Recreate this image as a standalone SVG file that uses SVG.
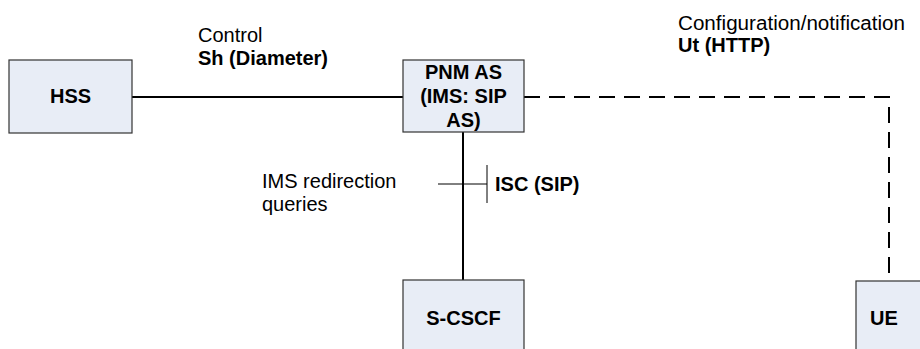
<svg xmlns="http://www.w3.org/2000/svg" width="920" height="349" viewBox="0 0 920 349">
  <style>
    .box { fill: #e8edf6; stroke: #333333; stroke-width: 1.2; }
    .lbl { font-family: "Liberation Sans", Arial, sans-serif; font-size: 20px; fill: #000000; }
    .b { font-weight: bold; }
    .mid { text-anchor: middle; }
    .conn { stroke: #000000; stroke-width: 2; fill: none; }
    .dash { stroke-dasharray: 16 9; }
    .tick { stroke: #000000; stroke-width: 1; fill: none; }
  </style>
  <rect width="920" height="349" fill="#ffffff"/>
  <g id="connectors">
    <line class="conn" x1="132" y1="97" x2="403" y2="97"/>
    <line class="conn" x1="463" y1="132" x2="463" y2="280"/>
    <polyline class="conn dash" points="524,97 889,97 889,281"/>
    <line class="tick" x1="438" y1="184" x2="487" y2="184"/>
    <line class="tick" x1="487" y1="165" x2="487" y2="203"/>
  </g>
  <g id="labels">
    <text class="lbl" x="198" y="42">Control</text>
    <text class="lbl b" x="198" y="65">Sh (Diameter)</text>
    <text class="lbl" x="678" y="30" textLength="227" lengthAdjust="spacingAndGlyphs">Configuration/notification</text>
    <text class="lbl b" x="678" y="52">Ut (HTTP)</text>
    <text class="lbl" x="262" y="188">IMS redirection</text>
    <text class="lbl" x="262" y="211">queries</text>
    <text class="lbl b" x="495" y="191">ISC (SIP)</text>
  </g>
  <g id="hss">
    <rect class="box" x="9" y="60" width="123" height="73"/>
    <text class="lbl b mid" x="70.5" y="103">HSS</text>
  </g>
  <g id="pnm-as">
    <rect class="box" x="403" y="60" width="121" height="72"/>
    <text class="lbl b mid" x="463.5" y="79">PNM AS</text>
    <text class="lbl b mid" x="463.5" y="103">(IMS: SIP</text>
    <text class="lbl b mid" x="463.5" y="127">AS)</text>
  </g>
  <g id="s-cscf">
    <rect class="box" x="403" y="280" width="121" height="80"/>
    <text class="lbl b mid" x="463.5" y="325">S-CSCF</text>
  </g>
  <g id="ue">
    <rect class="box" x="856" y="281" width="80" height="80"/>
    <text class="lbl b" x="870" y="325">UE</text>
  </g>
</svg>
